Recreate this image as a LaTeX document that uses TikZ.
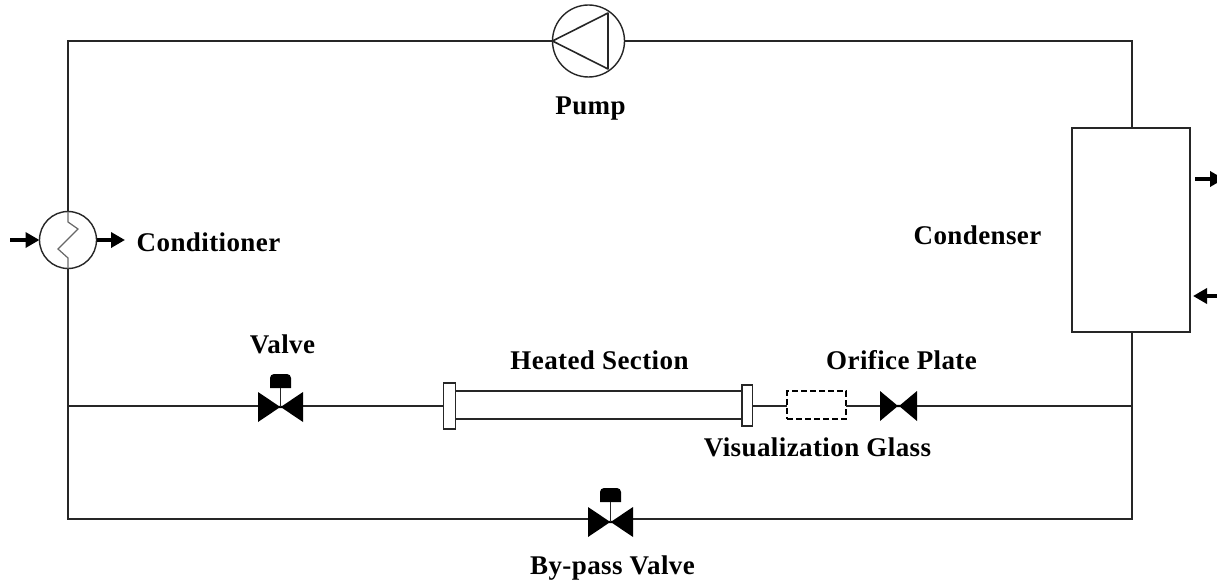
\documentclass[tikz,border=0pt]{standalone}
\usepackage{fontspec}
\setmainfont[LetterSpace=1.5]{Liberation Serif}
\usetikzlibrary{arrows.meta}
\definecolor{linec}{HTML}{262626}
\tikzset{
  x=1pt,y=-1pt,
  pipe/.style={draw=linec,line width=1.4pt},
  equip/.style={draw=linec,line width=1.4pt,fill=white,inner sep=0pt,outer sep=0pt},
  roundequip/.style={equip,circle},
  boxequip/.style={equip,rectangle},
  valvebox/.style={rectangle,inner sep=0pt,outer sep=0pt,minimum width=45pt,minimum height=30pt},
  orificebox/.style={rectangle,inner sep=0pt,outer sep=0pt,minimum width=37pt,minimum height=30pt},
  actuator/.style={rectangle,inner sep=0pt,outer sep=0pt,minimum width=21pt,minimum height=14pt},
  flow/.style={draw=black,line width=3.5pt,-{Triangle[length=14pt,width=15pt]},shorten >=0pt},
  label/.style={font=\bfseries\fontsize{27}{31}\selectfont,text=black,inner sep=0pt,anchor=base}
}
\newcommand{\bowfill}[1]{\fill[black] (#1.north west) -- ([xshift=-2pt,yshift=1.2pt]#1.center) -- ([xshift=2pt,yshift=1.2pt]#1.center) -- (#1.north east) -- (#1.south east) -- ([xshift=2pt,yshift=-1.2pt]#1.center) -- ([xshift=-2pt,yshift=-1.2pt]#1.center) -- (#1.south west) -- cycle;}
\newcommand{\actfill}[1]{\fill[black] (#1.south west) [rounded corners=4pt] -- (#1.north west) -- (#1.north east) [sharp corners] -- (#1.south east) -- cycle;}
\begin{document}
\begin{tikzpicture}
\clip (0,0) rectangle (1217,580);
\fill[white] (0,0) rectangle (1217,580);
% corners
\coordinate (tl) at (68,41);
\coordinate (bl) at (68,519);
\coordinate (ml) at (68,406);
\coordinate (tr) at (1132,41);
\coordinate (mr) at (1132,406);
\coordinate (br) at (1132,519);
% equipment
\node[roundequip,minimum size=72pt] (pump) at (588.5,41) {};
\node[roundequip,minimum size=57pt] (cond) at (68,240) {};
\node[boxequip,minimum width=118pt,minimum height=204pt] (condenser) at (1131,230) {};
\node[valvebox] (valve) at (280.5,407) {};
\node[valvebox] (bypass) at (610.5,522) {};
\node[orificebox] (orifice) at (898.5,406) {};
\node[actuator] (act1) at (280.5,381) {};
\node[actuator] (act2) at (610.5,495) {};
\node[rectangle,inner sep=0pt,minimum width=287pt,minimum height=28pt,outer sep=0pt] (tube) at (599,405) {};
\node[boxequip,minimum width=12pt,minimum height=46pt] (fl1) at (449.5,406) {};
\node[boxequip,minimum width=10.5pt,minimum height=41pt] (fl2) at (747.2,405.5) {};
\node[boxequip,draw=black,dash pattern=on 6pt off 3pt,line width=1.9pt,minimum width=59pt,minimum height=27.5pt] (glass) at (816.5,405) {};
% pipes
\draw[pipe] (pump.west) -- (tl) -- (cond.north);
\draw[pipe] (pump.east) -- (tr) -- (tr |- condenser.north);
\draw[pipe] (cond.south) -- (bl) -- (bypass.west |- bl);
\draw[pipe] (bypass.east |- br) -- (br) -- (tr |- condenser.south);
\draw[pipe] (ml) -- (valve.west |- ml);
\draw[pipe] (valve.east |- ml) -- (fl1.west |- ml);
\draw[pipe] (fl2.east |- ml) -- (glass.west |- ml);
\draw[pipe] (glass.east |- ml) -- (orifice.west |- ml);
\draw[pipe] (orifice.east |- ml) -- (mr);
\draw[pipe] (fl1.east |- tube.north) -- (fl2.west |- tube.north);
\draw[pipe] (fl1.east |- tube.south) -- (fl2.west |- tube.south);
% valves
\bowfill{valve}
\bowfill{bypass}
\bowfill{orifice}
\actfill{act1}
\actfill{act2}
\draw[pipe] (act1.south) -- (valve.center);
\draw[pipe] (act2.south) -- (bypass.center);
% pump triangle
\draw[draw=linec,line width=1.6pt,line join=round] (pump.west) -- (608,13) -- (608,69) -- cycle;
% conditioner zigzag
\draw[draw=linec!70,line width=1.2pt] (cond.north) -- (68,222) -- (78,229) -- (58,249) -- (68,258) -- (cond.south);
% flows
\coordinate (cin) at (10,240);
\coordinate (cout) at (125,240);
\coordinate (uo) at (1224,179);
\coordinate (ut) at (1195,179);
\coordinate (li) at (1217,296);
\coordinate (lt) at (1193,296);
\draw[flow] (cin) -- (cond.west);
\draw[flow] (cond.east) -- (cout);
\draw[flow] (ut) -- (uo);
\draw[flow] (li) -- (lt);
% labels
\node[label] (lpump) at (590.5,115) {Pump};
\node[label] (lcond) at (208.5,251) {Conditioner};
\node[label] (lcondenser) at (977.5,244) {Condenser};
\node[label] (lvalve) at (282.5,353) {Valve};
\node[label] (lheated) at (599.5,369) {Heated Section};
\node[label] (lorifice) at (901.5,369) {Orifice Plate};
\node[label] (lglass) at (817.5,456) {Visualization Glass};
\node[label] (lby) at (612.5,574) {By-pass Valve};
\end{tikzpicture}
\end{document}
